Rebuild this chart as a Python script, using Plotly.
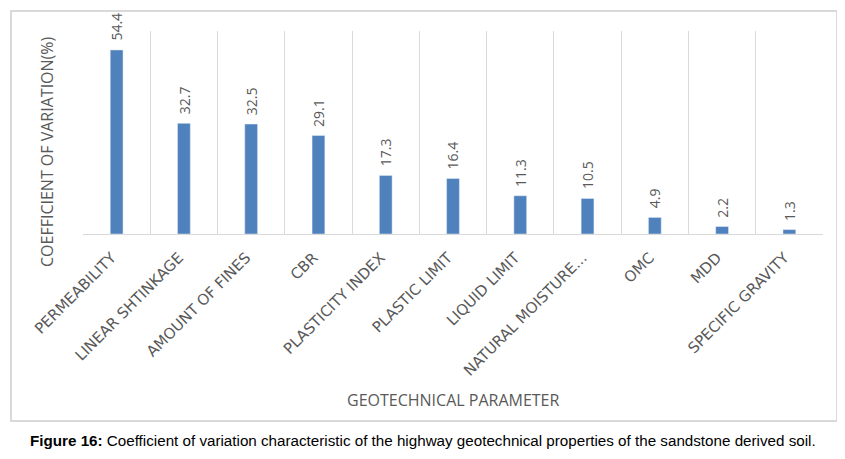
import plotly.graph_objects as go

categories = ["PERMEABILITY", "LINEAR SHTINKAGE", "AMOUNT OF FINES", "CBR",
              "PLASTICITY INDEX", "PLASTIC LIMIT", "LIQUID LIMIT",
              "NATURAL MOISTURE...", "OMC", "MDD", "SPECIFIC GRAVITY"]
values = [54.4, 32.7, 32.5, 29.1, 17.3, 16.4, 11.3, 10.5, 4.9, 2.2, 1.3]
value_labels = [f"{v:.1f}" for v in values]

# page body has an 8px margin; positions below are in figure coordinates
W, H = 837, 451
L, T, R, B = 75, 23, 22, 225
PW, PH = W - L - R, H - T - B

def px_x(x):
    return (x - L) / PW

def px_y(y):
    return 1 - (y - T) / PH

fig = go.Figure()
fig.add_trace(go.Bar(
    x=categories, y=values,
    marker=dict(color="#4f81bd"), width=0.19,
))

value_annotations = [
    dict(x=c, y=v, xref="x", yref="y", text=t, textangle=-90,
         showarrow=False, xanchor="center", yanchor="bottom", yshift=7,
         font=dict(family="Open Sans", size=14, color="#595959"))
    for c, v, t in zip(categories, values, value_labels)
]

fig.update_layout(
    width=W, height=H,
    margin=dict(l=L, r=R, t=T, b=B, autoexpand=False),
    paper_bgcolor="white", plot_bgcolor="white",
    showlegend=False,
    xaxis=dict(
        type="category", range=[-0.5, 10.5], automargin=False,
        tickson="boundaries", showgrid=True, gridcolor="#d9d9d9", gridwidth=1,
        showline=True, linecolor="#d9d9d9", linewidth=1,
        ticks="", tickangle=-45, ticklabelstandoff=8, ticklabelshift=-5,
        tickfont=dict(family="DejaVu Sans", size=15, color="#595959"),
    ),
    yaxis=dict(range=[0, 60], showticklabels=False, showgrid=False, automargin=False,
               zeroline=False, showline=False, ticks=""),
    shapes=[dict(type="rect", xref="paper", yref="paper",
                 x0=px_x(3), x1=px_x(829), y0=px_y(413), y1=px_y(3),
                 line=dict(color="#d9d9d9", width=2))],
    annotations=value_annotations + [
        dict(text="COEFFICIENT OF VARIATION(%)", textangle=-90,
             xref="paper", yref="paper", x=px_x(39), y=px_y(144),
             xanchor="center", yanchor="middle",
             showarrow=False, font=dict(family="Open Sans", size=16, color="#595959")),
        dict(text="GEOTECHNICAL PARAMETER",
             xref="paper", yref="paper", x=px_x(445), y=px_y(392),
             xanchor="center", yanchor="middle",
             showarrow=False, font=dict(family="Open Sans", size=16, color="#595959")),
        dict(text="<b>Figure 16:</b> Coefficient of variation characteristic of the highway geotechnical properties of the sandstone derived soil.",
             xref="paper", yref="paper", x=px_x(415), y=px_y(432),
             xanchor="center", yanchor="middle",
             showarrow=False, font=dict(family="Liberation Sans", size=15.2, color="black")),
    ],
)

fig.write_html("out.html")
